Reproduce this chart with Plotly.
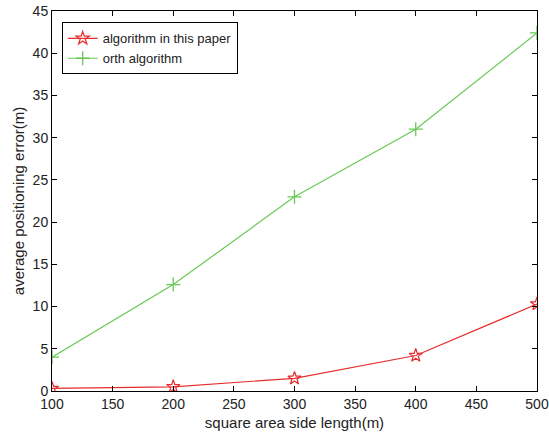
import plotly.graph_objects as go

x_vals = [100, 200, 300, 400, 500]
paper_err = [0.3, 0.5, 1.5, 4.2, 10.3]
orth_err = [4.0, 12.6, 23.0, 31.0, 42.4]
x_ticks = [100, 150, 200, 250, 300, 350, 400, 450, 500]
y_ticks = [0, 5, 10, 15, 20, 25, 30, 35, 40, 45]

fam = "Liberation Sans, Arial, sans-serif"
tick_font = dict(family=fam, size=14, color="#222")
title_font = dict(family=fam, size=15, color="#222")

fig = go.Figure()
fig.add_trace(go.Scatter(x=x_vals, y=paper_err, mode="lines+markers", name="algorithm in this paper",
                         line=dict(color="rgb(230,45,45)", width=1.2),
                         marker=dict(symbol="star-open", size=10, color="rgb(230,45,45)", line=dict(width=1.2))))
fig.add_trace(go.Scatter(x=x_vals, y=orth_err, mode="lines+markers", name="orth algorithm",
                         line=dict(color="rgb(105,200,85)", width=1.2),
                         marker=dict(symbol="cross-thin-open", size=10, color="rgb(105,200,85)", line=dict(width=1.3, color="rgb(105,200,85)"))))

axis_common = dict(showline=True, linecolor="black", linewidth=1, mirror="ticks", ticks="inside",
                   ticklen=5, tickcolor="black", showgrid=False, zeroline=False, tickfont=tick_font,
                   automargin=False)
fig.update_layout(
    width=549, height=442, margin=dict(l=52, r=12, t=11, b=51),
    paper_bgcolor="white", plot_bgcolor="white", font=tick_font,
    xaxis=dict(range=[100, 500], tickvals=x_ticks, title=dict(text="square area side length(m)", font=title_font, standoff=6), **axis_common),
    yaxis=dict(range=[0, 45], tickvals=y_ticks, title=dict(text="average positioning error(m)", font=title_font, standoff=4), **axis_common),
    legend=dict(x=0.02, y=0.97, xanchor="left", yanchor="top", bgcolor="white", bordercolor="black", borderwidth=1,
                font=dict(family=fam, size=13, color="#222"), tracegroupgap=0, itemwidth=30),
    showlegend=True,
)
fig.write_html("out.html")
